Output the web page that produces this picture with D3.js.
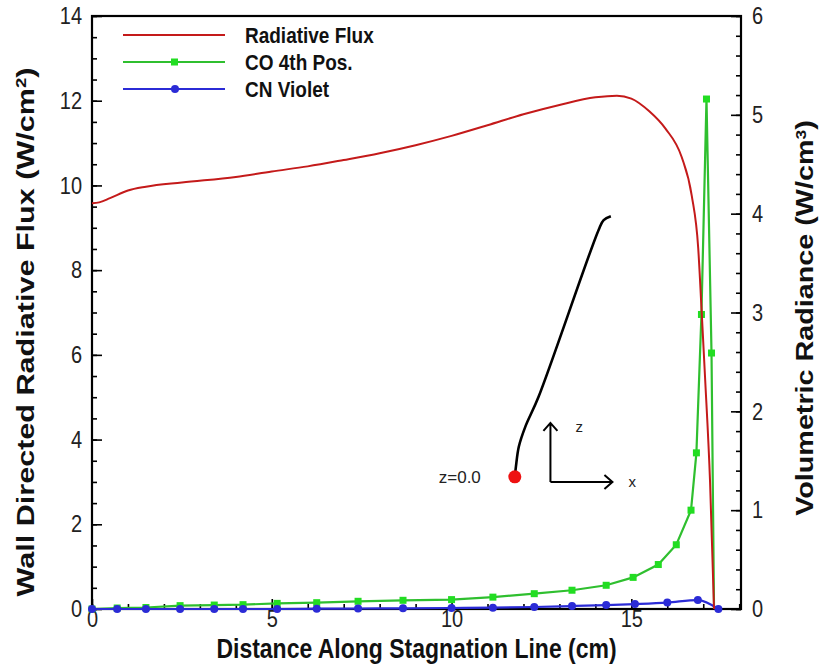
<!DOCTYPE html>
<html>
<head>
<meta charset="utf-8">
<script src="https://cdn.jsdelivr.net/npm/d3@7"></script>
<style>
  body { margin: 0; background: #fff; }
  text { font-family: "Liberation Sans", Arial, sans-serif; }
</style>
</head>
<body>
<script>
// ---- data ----
// Radiative flux, left axis (W/cm2)
const fluxX = [0, 0.2, 0.5, 1, 1.5, 2.5, 4, 5, 6, 7, 8, 9, 10, 11, 12, 13, 14, 14.6, 15.0, 15.5, 15.95, 16.4, 16.68, 16.86, 16.95, 17.05, 17.19, 17.3];
const fluxY = [9.58, 9.6, 9.7, 9.88, 9.97, 10.07, 10.2, 10.33, 10.45, 10.6, 10.76, 10.95, 11.17, 11.42, 11.68, 11.9, 12.08, 12.12, 12.05, 11.75, 11.34, 10.67, 9.76, 8.52, 7.12, 5.47, 2.99, 0];

// CO 4th Pos., right axis (W/cm3)
const coX = [0, 0.7, 1.5, 2.45, 3.4, 4.2, 5.15, 6.25, 7.4, 8.65, 10.0, 11.15, 12.3, 13.35, 14.3, 15.05, 15.75, 16.25, 16.66, 16.81, 16.95, 17.09, 17.23, 17.3];
const coY = [0.0, 0.01, 0.015, 0.034, 0.04, 0.044, 0.057, 0.064, 0.078, 0.088, 0.095, 0.12, 0.155, 0.19, 0.24, 0.32, 0.45, 0.65, 1.0, 1.58, 2.98, 5.16, 2.59, 0];

// CN Violet, right axis (W/cm3)
const cnX = [0, 0.7, 1.5, 2.45, 3.4, 4.2, 5.15, 6.25, 7.4, 8.65, 10.0, 11.15, 12.3, 13.35, 14.3, 15.1, 16.0, 16.85, 17.42];
const cnY = [0, 0, 0, 0, 0, 0, 0, 0.003, 0.005, 0.007, 0.01, 0.013, 0.02, 0.03, 0.04, 0.05, 0.065, 0.09, 0];

// ticks
const xTicks = [0, 5, 10, 15];
const leftTicks = [0, 2, 4, 6, 8, 10, 12, 14];
const rightTicks = [0, 1, 2, 3, 4, 5, 6];

// inset sketch, in chart units (cm, left axis)
const sketchX = [11.76, 11.79, 11.87, 12.05, 12.42, 14.09, 14.23, 14.43];
const sketchY = [3.12, 3.36, 3.83, 4.30, 5.01, 8.95, 9.18, 9.27];

// ---- setup ----
const width = 819;
const height = 668;
const marginTop = 16;
const marginBottom = 59;
const marginLeft = 92;
const marginRight = 78;
const innerW = width - marginLeft - marginRight;
const innerH = height - marginTop - marginBottom;

const RED = '#c41a1a';
const GREEN = '#2fbf2f';
const GREEN_MARK = '#22dd22';
const BLUE = '#2b2bd6';
const STRETCH = 1.2;

const x = d3.scaleLinear().domain([0, 18.05]).range([0, innerW]);
const yLeft = d3.scaleLinear().domain([0, 14]).range([innerH, 0]);
const yRight = d3.scaleLinear().domain([0, 6]).range([innerH, 0]);

const svg = d3.select('body')
  .append('svg')
  .attr('width', width)
  .attr('height', height);

const chart_g = svg.append('g')
  .attr('transform', 'translate(' + marginLeft + ',' + marginTop + ')');

renderAxes();
renderSeries();
renderSketch();
renderLegend();
renderTitles();

function styleAxis(g) {
  g.select('.domain').remove();
  g.selectAll('line').attr('stroke', '#000').attr('stroke-width', 1.6);
  g.selectAll('text')
    .attr('fill', '#222')
    .attr('font-size', 20)
    .attr('transform', 'scale(1,' + STRETCH + ')');
}

function renderAxes() {
  // minor ticks
  chart_g.append('g')
    .call(d3.axisLeft(yLeft).tickValues(d3.range(0, 14.01, 0.5)).tickSize(-5).tickFormat(''))
    .call(styleAxis);
  chart_g.append('g')
    .attr('transform', 'translate(' + innerW + ',0)')
    .call(d3.axisRight(yRight).tickValues(d3.range(0, 6.01, 0.2)).tickSize(-5).tickFormat(''))
    .call(styleAxis);
  chart_g.append('g')
    .attr('transform', 'translate(0,' + innerH + ')')
    .call(d3.axisBottom(x).tickValues(d3.range(0, 18.01, 1)).tickSize(-5).tickFormat(''))
    .call(styleAxis);

  // major ticks + labels
  chart_g.append('g')
    .call(d3.axisLeft(yLeft).tickValues(leftTicks).tickSize(-10).tickPadding(10).tickFormat(d3.format('d')))
    .call(styleAxis);
  chart_g.append('g')
    .attr('transform', 'translate(' + innerW + ',0)')
    .call(d3.axisRight(yRight).tickValues(rightTicks).tickSize(-10).tickPadding(11).tickFormat(d3.format('d')))
    .call(styleAxis);
  chart_g.append('g')
    .attr('transform', 'translate(0,' + innerH + ')')
    .call(d3.axisBottom(x).tickValues(xTicks).tickSize(-10).tickPadding(1).tickFormat(d3.format('d')))
    .call(styleAxis);

  // frame
  chart_g.append('rect')
    .attr('width', innerW)
    .attr('height', innerH)
    .attr('fill', 'none')
    .attr('stroke', '#000')
    .attr('stroke-width', 2.2);
}

function renderSeries() {
  const flux = fluxX.map((d, i) => ({x: d, y: fluxY[i]}));
  const co = coX.map((d, i) => ({x: d, y: coY[i]}));
  const cn = cnX.map((d, i) => ({x: d, y: cnY[i]}));

  const lineLeft = d3.line().x(d => x(d.x)).y(d => yLeft(d.y)).curve(d3.curveMonotoneX);
  const lineRightCurve = d3.line().x(d => x(d.x)).y(d => yRight(d.y)).curve(d3.curveMonotoneX);
  const lineRight = d3.line().x(d => x(d.x)).y(d => yRight(d.y));

  // CO 4th positive
  chart_g.append('path')
    .datum(co)
    .attr('d', lineRight)
    .attr('fill', 'none')
    .attr('stroke', GREEN)
    .attr('stroke-width', 2.2);
  chart_g.selectAll('rect.co')
    .data(co.slice(0, co.length - 1))
    .enter()
    .append('rect')
    .attr('class', 'co')
    .attr('x', d => x(d.x) - 3.5)
    .attr('y', d => yRight(d.y) - 3.5)
    .attr('width', 7)
    .attr('height', 7)
    .attr('fill', GREEN_MARK);

  // CN violet
  chart_g.append('path')
    .datum(cn)
    .attr('d', lineRightCurve)
    .attr('fill', 'none')
    .attr('stroke', BLUE)
    .attr('stroke-width', 2.2);
  chart_g.selectAll('circle.cn')
    .data(cn)
    .enter()
    .append('circle')
    .attr('class', 'cn')
    .attr('cx', d => x(d.x))
    .attr('cy', d => yRight(d.y))
    .attr('r', 4)
    .attr('fill', BLUE);

  // radiative flux
  chart_g.append('path')
    .datum(flux)
    .attr('d', lineLeft)
    .attr('fill', 'none')
    .attr('stroke', RED)
    .attr('stroke-width', 2);
}

function renderSketch() {
  const pts = sketchX.map((d, i) => [x(d), yLeft(sketchY[i])]);
  chart_g.append('path')
    .attr('d', d3.line().curve(d3.curveCatmullRom)(pts))
    .attr('fill', 'none')
    .attr('stroke', '#000')
    .attr('stroke-width', 2.6);
  chart_g.append('circle')
    .attr('cx', pts[0][0])
    .attr('cy', pts[0][1])
    .attr('r', 6.5)
    .attr('fill', '#ee1111');

  chart_g.append('text')
    .attr('x', pts[0][0] - 34)
    .attr('y', pts[0][1])
    .attr('dy', '0.35em')
    .attr('text-anchor', 'end')
    .attr('font-size', 17)
    .attr('fill', '#222')
    .text('z=0.0');

  // small x/z axes
  const ox = x(12.75), oy = yLeft(3.0);
  const ax = chart_g.append('g')
    .attr('fill', 'none')
    .attr('stroke', '#000')
    .attr('stroke-width', 2);
  ax.append('path').attr('d', `M${ox},${oy}V${oy - 59}M${ox - 7},${oy - 51}L${ox},${oy - 59}L${ox + 7},${oy - 51}`);
  ax.append('path').attr('d', `M${ox},${oy}H${ox + 62}M${ox + 54},${oy - 7}L${ox + 62},${oy}L${ox + 54},${oy + 7}`);

  chart_g.append('text')
    .attr('x', ox + 25).attr('y', oy - 55)
    .attr('dy', '0.35em')
    .attr('font-size', 15).attr('fill', '#222')
    .text('z');
  chart_g.append('text')
    .attr('x', ox + 78).attr('y', oy)
    .attr('dy', '0.35em')
    .attr('font-size', 15).attr('fill', '#222')
    .text('x');
}

function renderLegend() {
  const items = [
    {name: 'Radiative Flux', color: RED, mark: null},
    {name: 'CO 4th Pos.', color: GREEN, mark: 'square'},
    {name: 'CN Violet', color: BLUE, mark: 'circle'}
  ];
  const leg = svg.append('g');
  items.forEach((d, i) => {
    const yy = 35 + i * 27;
    leg.append('line')
      .attr('x1', 123).attr('x2', 225)
      .attr('y1', yy).attr('y2', yy)
      .attr('stroke', d.color)
      .attr('stroke-width', 2.2);
    if (d.mark === 'square') {
      leg.append('rect').attr('x', 171).attr('y', yy - 3.5).attr('width', 7).attr('height', 7).attr('fill', GREEN_MARK);
    } else if (d.mark === 'circle') {
      leg.append('circle').attr('cx', 175).attr('cy', yy).attr('r', 4).attr('fill', BLUE);
    }
    leg.append('text')
      .attr('transform', 'translate(245,' + yy + ') scale(1,' + STRETCH + ')')
      .attr('dy', '0.36em')
      .attr('font-size', 19)
      .attr('font-weight', 'bold')
      .attr('fill', '#111')
      .text(d.name);
  });
}

function renderTitles() {
  svg.append('text')
    .attr('transform', 'translate(' + (marginLeft + innerW / 2) + ',658) scale(1,' + STRETCH + ')')
    .attr('text-anchor', 'middle')
    .attr('font-size', 23)
    .attr('font-weight', 'bold')
    .attr('fill', '#111')
    .text('Distance Along Stagnation Line (cm)');

  const left = svg.append('text')
    .attr('transform', 'translate(34,332) rotate(-90) scale(1.33,1)')
    .attr('text-anchor', 'middle')
    .attr('font-size', 23)
    .attr('font-weight', 'bold')
    .attr('fill', '#111');
  left.append('tspan').text('Wall Directed Radiative Flux (W/cm');
  left.append('tspan').attr('baseline-shift', 'super').attr('font-size', 14).text('2');
  left.append('tspan').text(')');

  const right = svg.append('text')
    .attr('transform', 'translate(813,318) rotate(-90) scale(1.25,1)')
    .attr('text-anchor', 'middle')
    .attr('font-size', 23)
    .attr('font-weight', 'bold')
    .attr('fill', '#111');
  right.append('tspan').text('Volumetric Radiance (W/cm');
  right.append('tspan').attr('baseline-shift', 'super').attr('font-size', 14).text('3');
  right.append('tspan').text(')');
}
</script>
</body>
</html>
